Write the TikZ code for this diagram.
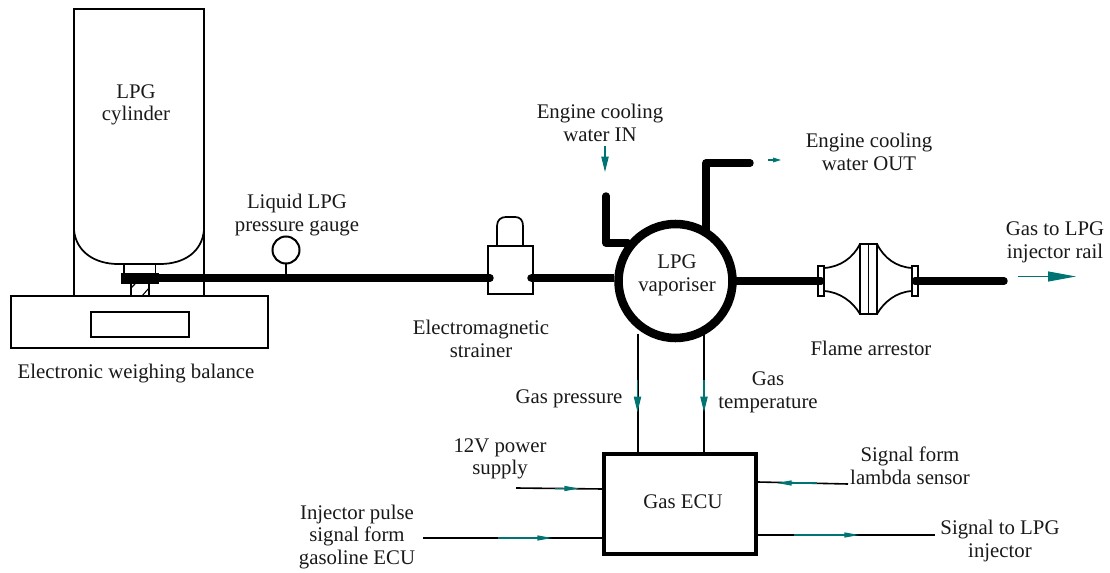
\documentclass[tikz,border=0pt]{standalone}
\usepackage{fontspec}
\setmainfont{Liberation Serif}
\usetikzlibrary{arrows.meta,shapes,positioning}

\tikzset{
  label/.style={font=\fontsize{15.6}{17}\selectfont, align=center, inner sep=0pt, text=black!90},
  pipe/.style={line width=5.6pt, line cap=round, line join=round},
  wire/.style={line width=1.2pt},
  part/.style={draw, line width=1.3pt},
  flow/.style={color=teal!90!black, line width=0.8pt, -{Triangle[length=11.5pt,width=5.5pt]}},
  flowsmall/.style={color=teal!90!black, line width=0.8pt, -{Triangle[length=11pt,width=3.8pt]}},
}

\begin{document}
\begin{tikzpicture}[x=0.75pt, y=-0.75pt, >=Stealth]
    \useasboundingbox (0,0) rectangle (1110,573);

    % Balance and cylinder
    \node[part, minimum width=192.75pt, minimum height=39pt, inner sep=0pt] (balance) at (139.5,322) {};
    \node[part, line width=0.9pt, minimum width=73.5pt, minimum height=18.75pt, inner sep=0pt] (display) at (140,324.5) {};
    \draw[part] (74,296) -- (74,9) -- (204,9) -- (204,296);
    \draw[part] (74,230) .. controls (76,252) and (95,264) .. (118,264) -- (160,264) .. controls (184,264) and (202,252) .. (204,230);
    \node at (136,105) [label] (cylinder) {LPG\\cylinder};
    \node at (136,374) [label] (balancetext) {Electronic weighing balance};

    % Cylinder valve
    \draw[part] (124,264) -- (124,273) (155.5,264) -- (155.5,273);
    \draw[part] (131,284) -- (131,296) (149,284) -- (149,296);
    \draw[line width=0.8pt] (131,288) -- (135,284) (142,296) -- (149,288);
    \node[fill=black, minimum width=28.5pt, minimum height=8.25pt, inner sep=0pt] (valve) at (140,278.5) {};

    % Gauge
    \node[part, circle, line width=1.5pt, minimum size=20.25pt, inner sep=0pt] (gauge) at (286,250) {};
    \coordinate (gaugefoot) at (286,278);
    \draw[part] (gauge) -- (gaugefoot);
    \node at (297,215) [label] (gaugetext) {Liquid LPG\\pressure gauge};

    % Strainer
    \node[part, minimum width=33.75pt, minimum height=36pt, inner sep=0pt] (strainer) at (510.5,270) {};
    \draw[part] (497,246) -- (497,226) .. controls (497,220) and (501,217) .. (506,217) -- (515,217) .. controls (520,217) and (523,220) .. (523,226) -- (523,246);
    \node at (481,339) [label] (strainertext) {Electromagnetic\\strainer};
    \coordinate (strainerin) at (490,278);
    \coordinate (strainerout) at (531,278);

    % Vaporiser
    \node[draw, circle, line width=6.4pt, minimum size=85.5pt, inner sep=0pt] (vaporiser) at (675.5,281) {};
    \node at (677,275) [label] (vaporisertext) {LPG\\vaporiser};

    % Main pipe
    \draw[pipe] (valve.east |- strainerin) -- (strainerin);
    \draw[pipe, line cap=butt] (strainerout) -- (vaporiser.west |- strainerout);
    \fill (strainerout) circle (2.8pt);
    \coordinate (waterintop) at (606,196);
    \coordinate (wateroutend) at (750,163);
    \draw[pipe] (waterintop) -- (606,243) -- (628,243);
    \draw[pipe] (706,230) -- (706,163) -- (wateroutend);

    % Flame arrestor
    \node[part, minimum width=4.5pt, minimum height=22.5pt, inner sep=0pt] (flangeleft) at (821,281) {};
    \node[part, minimum width=4.5pt, minimum height=22.5pt, inner sep=0pt] (flangeright) at (915,281) {};
    \node[part, minimum width=12.75pt, minimum height=52.5pt, inner sep=0pt] (arrestor) at (868.5,279) {};
    \draw[part] (868.5,244) -- (868.5,314);
    \draw[part] (824,268) .. controls (840,267) and (853,258) .. (860,244);
    \draw[part] (824,291) .. controls (840,292) and (853,302) .. (860,314);
    \draw[part] (912,268) .. controls (896,267) and (884,258) .. (877,244);
    \draw[part] (912,291) .. controls (896,292) and (884,302) .. (877,314);
    \coordinate (railend) at (1004,281);
    \draw[pipe] (vaporiser.east) -- (flangeleft.center);
    \draw[pipe] (flangeright.center) -- (railend);
    \node at (871,348) [label] (arrestortext) {Flame arrestor};

    % Water and gas arrows
    \coordinate (waterinA) at (605,146);
    \coordinate (waterinB) at (605,172);
    \draw[flow] (waterinA) -- (waterinB);
    \coordinate (wateroutA) at (768,160);
    \coordinate (wateroutB) at (781,160);
    \draw[flowsmall, -{Triangle[length=6pt,width=3.5pt]}] (wateroutA) -- (wateroutB);
    \coordinate (railA) at (1018,276.5);
    \coordinate (railB) at (1076,276.5);
    \draw[flow, -{Triangle[length=21pt,width=7.5pt]}] (railA) -- (railB);
    \node at (600,123) [label] (watertextin) {Engine cooling\\water IN};
    \node at (869,152) [label] (watertextout) {Engine cooling\\water OUT};
    \node at (1055,242) [label] (railtext) {Gas to LPG\\injector rail};

    % ECU
    \node[draw, line width=2.4pt, minimum width=114pt, minimum height=75pt, inner sep=0pt] (ecu) at (680,504) {};
    \node at (683,502) [label] (ecutext) {Gas ECU};
    \coordinate (pressuretop) at (638,334);
    \coordinate (temptop) at (704,334);
    \draw[wire] (pressuretop) -- (pressuretop |- ecu.north);
    \draw[wire] (temptop) -- (temptop |- ecu.north);
    \coordinate (pressureA) at (637.5,380);
    \coordinate (pressureB) at (637.5,412);
    \coordinate (tempA) at (704,380);
    \coordinate (tempB) at (704,412);
    \draw[flow] (pressureA) -- (pressureB);
    \draw[flow] (tempA) -- (tempB);
    \node at (569,399) [label] (pressuretext) {Gas pressure};
    \node at (768,392) [label] (temptext) {Gas\\temperature};

    % Signals
    \coordinate (powerstart) at (516,488);
    \coordinate (pulsestart) at (423,538);
    \coordinate (lambdastart) at (848,484);
    \coordinate (injectorend) at (935,535);
    \draw[wire] (powerstart) -- (ecu.west |- 0,489);
    \draw[wire] (pulsestart) -- (ecu.west |- pulsestart);
    \draw[wire] (lambdastart) -- (ecu.east |- 0,482);
    \draw[wire] (ecu.east |- injectorend) -- (injectorend);
    \draw[flowsmall] (555,488.5) -- (579,488.5);
    \draw[flowsmall] (498,538) -- (552,538);
    \draw[flowsmall] (817,483) -- (777,483);
    \draw[flowsmall] (794,535) -- (859,535);
    \node at (500,459) [label] (powertext) {12V power\\supply};
    \node at (357,537) [label] (pulsetext) {Injector pulse\\signal form\\gasoline ECU};
    \node at (910,466) [label] (lambdatext) {Signal form\\lambda sensor};
    \node at (1000,541) [label] (injectortext) {Signal to LPG\\injector};
\end{tikzpicture}
\end{document}
